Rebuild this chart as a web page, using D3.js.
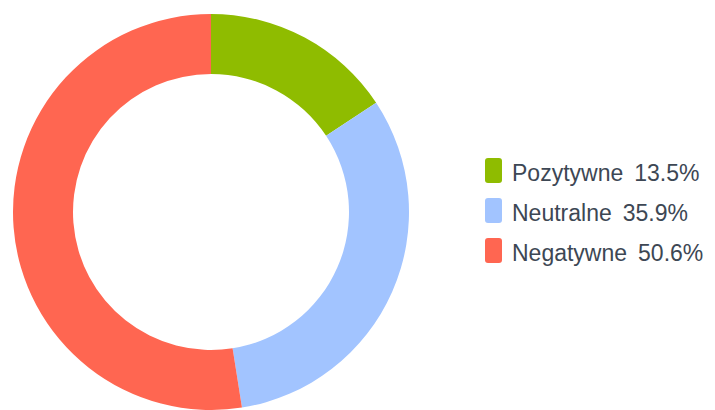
<!DOCTYPE html>
<html>
<head>
<meta charset="utf-8">
<script src="https://cdn.jsdelivr.net/npm/d3@7"></script>
<style>
  body { margin: 0; background: #fff; }
  text { font-family: "Liberation Sans", Arial, sans-serif; }
</style>
</head>
<body>
<div id="chart"></div>
<script>
// slice sizes as drawn (arc shares read from the ring)
var categories = ["Pozytywne", "Neutralne", "Negatywne"];
var sliceValues = [15.7, 31.8, 52.5];
// percentages printed in the legend
var legendLabels = ["13.5%", "35.9%", "50.6%"];
var colors = ["#8fbc00", "#a2c4ff", "#ff6651"];

var width = 715, height = 410;
var cx = 211, cy = 212;
var outerR = 198, innerR = 138;

var svg = d3.select("#chart")
    .append("svg")
    .attr("width", width)
    .attr("height", height);

var pie = d3.pie().sort(null).value(function (d) { return d; });
var arc = d3.arc().innerRadius(innerR).outerRadius(outerR);

var color = d3.scaleOrdinal().domain(categories).range(colors);

var g = svg.append("g")
    .attr("transform", "translate(" + cx + "," + cy + ")");

g.selectAll("path")
    .data(pie(sliceValues))
    .enter()
    .append("path")
    .attr("d", arc)
    .attr("fill", function (d, i) { return color(categories[i]); });

// legend
var y = d3.scaleBand()
    .domain(categories)
    .range([150, 270])
    .paddingInner(0);

var legend = svg.append("g");

var items = legend.selectAll("g")
    .data(categories)
    .enter()
    .append("g")
    .attr("transform", function (d) { return "translate(485," + y(d) + ")"; });

items.append("rect")
    .attr("x", 0)
    .attr("y", 8)
    .attr("width", 17)
    .attr("height", 25)
    .attr("rx", 3)
    .attr("fill", function (d) { return color(d); });

var txt = items.append("text")
    .attr("x", 27)
    .attr("y", 31)
    .attr("font-size", "23px")
    .attr("fill", "#3d4754");

txt.append("tspan").text(function (d) { return d; });
txt.append("tspan")
    .attr("dx", 11)
    .text(function (d, i) { return legendLabels[i]; });
</script>
</body>
</html>
